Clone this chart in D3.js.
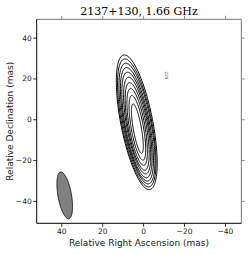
<!DOCTYPE html>
<html><head><meta charset="utf-8">
<script src="https://cdn.jsdelivr.net/npm/d3@7/dist/d3.min.js"></script>
<style>body{margin:0;background:#fff}svg{display:block}</style>
</head><body>
<svg id="c" width="250" height="255"></svg>
<script>
const title = "2137+130, 1.66 GHz";
const xTicks = [40, 20, 0, -20, -40];
const yTicks = [40, 20, 0, -20, -40];
// contour ellipses (mas): centre RA, centre Dec, semi-major, semi-minor, PA (deg, E of N)
const cX   = [2.8, 2.8, 2.9, 2.9, 2.9, 3.0, 3.0, 3.0, 3.1, 3.1];
const cY   = [-4.6, -4.2, -3.8, -3.5, -3.1, -2.8, -2.5, -2.1, -1.8, -1.5];
const cMaj = [12.3, 16.1, 19.1, 21.8, 24.1, 26.3, 28.3, 30.1, 31.9, 33.6];
const cMin = [2.0, 3.0, 3.8, 4.5, 5.1, 5.7, 6.2, 6.8, 7.3, 7.8];
const cPA  = [10, 10, 10, 10.2, 10.4, 10.6, 10.8, 11, 11, 11];
// restoring beam
const beam = {x: 38.3, y: -37.3, maj: 11.6, min: 3.3, pa: 10};

const svg = d3.select("#c");
const L = 36.7, R = 241.3, T = 19.3, B = 223.3;
const x = d3.scaleLinear().domain([52, -48]).range([L, R]);
const y = d3.scaleLinear().domain([-51, 49]).range([B, T]);

function ellipsePath(cx, cy, a, b, pa) {
  const pts = [];
  const th = pa * Math.PI / 180;
  for (let i = 0; i <= 180; i++) {
    const t = i / 180 * 2 * Math.PI;
    const u = b * Math.cos(t), v = a * Math.sin(t);
    const ra = cx + u * Math.cos(th) + v * Math.sin(th);
    const de = cy - u * Math.sin(th) + v * Math.cos(th);
    pts.push([x(ra), y(de)]);
  }
  return d3.line()(pts) + "Z";
}

const g = svg.append("g");
g.append("defs").append("clipPath").attr("id", "clip")
  .append("rect").attr("x", L).attr("y", T).attr("width", R - L).attr("height", B - T);
const plot = g.append("g").attr("clip-path", "url(#clip)");

cMaj.forEach((a, i) => {
  plot.append("path").attr("d", ellipsePath(cX[i], cY[i], a, cMin[i], cPA[i]))
    .attr("fill", "none").attr("stroke", "#000").attr("stroke-width", 1);
});
plot.append("path").attr("d", ellipsePath(beam.x, beam.y, beam.maj, beam.min, beam.pa))
  .attr("fill", "#808080").attr("stroke", "#000").attr("stroke-width", 0.8);

// small annotation
svg.append("text").attr("transform", `translate(${x(-10.5)},${y(21.5)}) rotate(90)`)
  .attr("font-family", "DejaVu Sans").attr("font-size", 4).attr("fill", "#333")
  .attr("text-anchor", "middle").text("225");

// axes
const axB = d3.axisBottom(x).tickValues(xTicks).tickSize(3.5).tickPadding(2).tickFormat(d3.format("d"));
const axL = d3.axisLeft(y).tickValues(yTicks).tickSize(3.5).tickPadding(1.5).tickFormat(d3.format("d"));
const axT = d3.axisTop(x).tickValues(xTicks).tickSize(3.5).tickFormat("");
const axR = d3.axisRight(y).tickValues(yTicks).tickSize(3.5).tickFormat("");

function style(sel, col) {
  sel.selectAll(".domain").remove();
  sel.selectAll("line").attr("stroke", col).attr("stroke-width", 0.8);
  sel.selectAll("text").attr("font-family", "DejaVu Sans").attr("font-size", 7.5).attr("fill", "#222");
}
style(svg.append("g").attr("transform", `translate(0,${B})`).call(axB), "#000");
style(svg.append("g").attr("transform", `translate(${L},0)`).call(axL), "#000");
style(svg.append("g").attr("transform", `translate(0,${T})`).call(axT), "#777");
style(svg.append("g").attr("transform", `translate(${R},0)`).call(axR), "#777");

// frame
svg.append("line").attr("x1", L).attr("x2", R).attr("y1", T).attr("y2", T).attr("stroke", "#777").attr("stroke-width", 1);
svg.append("line").attr("x1", R).attr("x2", R).attr("y1", T).attr("y2", B).attr("stroke", "#777").attr("stroke-width", 1);
svg.append("line").attr("x1", L).attr("x2", R).attr("y1", B).attr("y2", B).attr("stroke", "#000").attr("stroke-width", 1);
svg.append("line").attr("x1", L).attr("x2", L).attr("y1", T).attr("y2", B).attr("stroke", "#000").attr("stroke-width", 1);

// labels
svg.append("text").attr("x", (L + R) / 2).attr("y", 15).attr("text-anchor", "middle")
  .attr("font-family", "DejaVu Serif").attr("font-size", 11).attr("fill", "#000").text(title);
svg.append("text").attr("x", (L + R) / 2).attr("y", 246).attr("text-anchor", "middle")
  .attr("font-family", "DejaVu Sans").attr("font-size", 9).attr("fill", "#222")
  .text("Relative Right Ascension (mas)");
svg.append("text").attr("transform", `translate(13,${(T + B) / 2}) rotate(-90)`).attr("text-anchor", "middle")
  .attr("font-family", "DejaVu Sans").attr("font-size", 9).attr("fill", "#222")
  .text("Relative Declination (mas)");
</script>
</body></html>
